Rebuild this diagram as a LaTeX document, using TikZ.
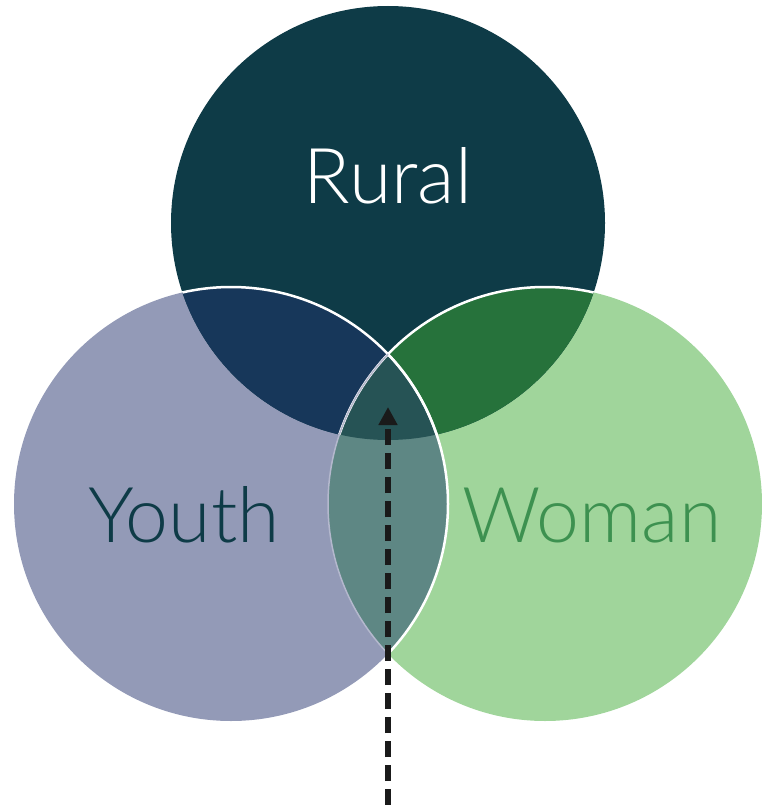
\documentclass[tikz,border=0pt]{standalone}
\usepackage{fontspec}
\usetikzlibrary{arrows.meta}
\newfontfamily\vennfont{Lato Light}
\definecolor{rural}{HTML}{0E3B47}
\definecolor{youth}{HTML}{939AB7}
\definecolor{woman}{HTML}{A0D59B}
\definecolor{ruralyouth}{HTML}{17375A}
\definecolor{ruralwoman}{HTML}{26723B}
\definecolor{youthwoman}{HTML}{5E8784}
\definecolor{allthree}{HTML}{265355}
\definecolor{womantext}{HTML}{3D9150}
\definecolor{arrowcol}{HTML}{1A1A1A}
\begin{document}
\begin{tikzpicture}[x=1pt, y=-1pt, line join=round,
  lbl/.style={font=\vennfont\fontsize{77}{80}\selectfont, anchor=base}]
\def\r{217}
\def\R{(388,223) circle (\r)}
\def\Y{(231,504) circle (\r)}
\def\W{(545,504) circle (\r)}
\useasboundingbox (0,0) rectangle (762,805);
% the three sets
\fill[youth] \Y;
\fill[woman] \W;
\fill[rural] \R;
% overlaps
\begin{scope} \clip \R; \fill[ruralyouth] \Y; \fill[ruralwoman] \W; \end{scope}
\begin{scope} \clip \Y; \fill[youthwoman] \W; \end{scope}
\begin{scope} \clip \R; \clip \Y; \fill[allthree] \W; \end{scope}
% outlines
\begin{scope} \clip \R; \draw[white, line width=2.5] \Y; \draw[white, line width=2.5] \W; \end{scope}
\begin{scope} \clip \W; \draw[white, line width=2.5] \Y; \end{scope}
\begin{scope} \clip (0,350) rectangle (762,805); \clip \Y; \draw[youth!70!white, line width=1.5] \W; \end{scope}
% labels
\node[lbl, white] (rural) at (388,203) {Rural};
\node[lbl, rural] (youth) at (184,542) {Youth};
\node[lbl, womantext] (woman) at (592,542) {Woman};
% dashed pointer to the centre
\coordinate (tail) at (388,805);
\coordinate (tip) at (388,407);
\draw[arrowcol, line width=6, dash pattern=on 16 off 8, -{Triangle[length=18, width=18]}] (tail) -- (tip);
\end{tikzpicture}
\end{document}
